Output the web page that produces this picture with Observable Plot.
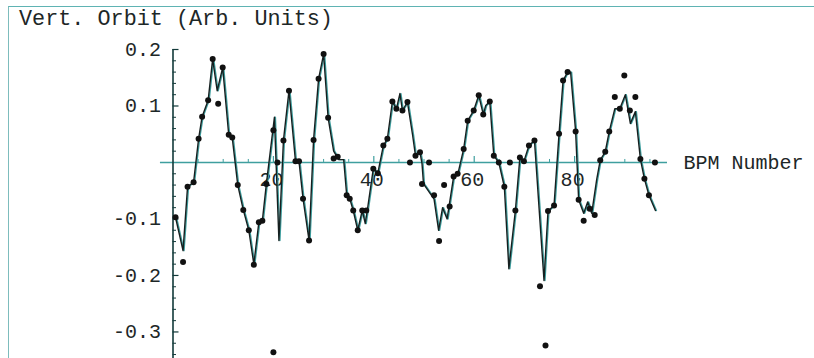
<!DOCTYPE html>
<html><head><meta charset="utf-8">
<script src="https://cdn.jsdelivr.net/npm/d3@7"></script>
<script src="https://cdn.jsdelivr.net/npm/@observablehq/plot@0.6"></script>
<style>
html,body{margin:0;padding:0;background:#fff;}
#wrap{position:relative;width:814px;height:358px;overflow:hidden;}
#frame{position:absolute;left:8px;top:6px;width:830px;height:420px;border-left:1.5px solid #7dbcbc;border-top:1.5px solid #5fb3b3;box-sizing:border-box;pointer-events:none;}
#title{position:absolute;left:19px;top:9px;font-family:"Liberation Mono","DejaVu Sans Mono",monospace;font-size:21.8px;line-height:21.5px;color:#1d2727;white-space:pre;}
#chart{position:absolute;left:0;top:0;}
</style></head>
<body>
<div id="wrap"><div id="frame"></div><div id="title">Vert. Orbit (Arb. Units)</div><div id="chart"></div></div>
<script>
// Fitted orbit curve (BPM number, vertical orbit)
const fitBpm = [0.5,2.0,2.9,4.1,5.1,5.8,7.0,7.9,8.8,9.9,11.1,11.8,12.9,14.0,15.1,16.1,17.1,17.8,18.6,20.2,21.1,22.0,23.1,24.4,25.1,25.9,27.1,28.0,29.0,30.0,30.9,32.0,33.0,34.0,34.6,35.2,35.9,36.8,37.7,38.3,38.7,39.9,40.8,41.9,42.7,43.7,44.5,45.2,45.7,46.7,47.7,48.3,49.2,49.6,49.9,52.0,52.9,53.7,54.6,55.9,56.7,57.9,58.7,59.9,60.9,61.8,62.3,63.1,63.9,64.9,66.0,66.9,68.2,69.1,69.9,70.9,72.0,73.9,74.7,75.9,76.9,77.7,78.6,79.2,80.2,80.8,81.8,82.6,83.4,84.4,85.1,86.1,86.9,88.0,89.0,90.1,91.1,92.1,93.1,93.9,94.8,96.1];
const fitOrbit = [-0.097,-0.156,-0.043,-0.035,0.042,0.081,0.11,0.183,0.127,0.168,0.049,0.044,-0.04,-0.084,-0.12,-0.18,-0.106,-0.103,-0.038,0.08,-0.138,0.039,0.127,0.002,0.002,-0.064,-0.138,0.04,0.148,0.192,0.079,0.02,0.005,0.005,-0.058,-0.064,-0.085,-0.12,-0.085,-0.108,-0.085,-0.011,-0.019,0.03,0.042,0.108,0.095,0.122,0.092,0.107,0.05,0.012,0.018,-0.002,-0.038,-0.065,-0.12,-0.08,-0.1,-0.025,-0.022,0.024,0.074,0.092,0.119,0.085,0.101,0.108,0.012,0.0,-0.043,-0.188,-0.085,0.009,0.002,0.03,0.039,-0.209,-0.086,-0.076,0.051,0.145,0.16,0.16,0.055,-0.066,-0.09,-0.07,-0.09,-0.03,0.004,0.019,0.055,0.095,0.095,0.12,0.069,0.09,0.006,-0.029,-0.058,-0.085];
// Measured BPM readings (dots)
const bpm = [0.5,2.0,2.9,4.1,5.1,5.8,7.0,7.9,9.0,9.9,11.1,11.8,12.9,14.0,15.1,16.1,17.1,17.8,18.6,20.0,20.0,20.8,22.0,23.1,24.4,25.1,25.9,27.1,28.0,29.0,30.0,30.9,32.0,32.8,34.6,35.2,35.9,36.8,37.7,38.5,39.9,40.8,41.9,42.7,43.7,44.5,45.7,46.7,47.2,48.3,49.2,49.6,51.0,52.0,53.0,54.0,55.1,55.9,56.7,57.9,58.7,59.9,60.9,61.8,63.1,63.9,64.9,66.0,67.1,68.2,69.1,69.9,70.9,72.0,73.1,74.2,74.7,75.9,76.9,77.7,78.6,80.2,80.8,81.8,83.0,84.0,85.1,86.1,86.9,88.0,89.0,89.9,91.0,92.1,93.1,93.9,94.8,96.0];
const orbit = [-0.097,-0.176,-0.043,-0.035,0.042,0.081,0.11,0.183,0.104,0.168,0.049,0.044,-0.04,-0.084,-0.12,-0.181,-0.106,-0.103,-0.038,0.057,-0.336,0.0,0.039,0.127,0.002,0.002,-0.064,-0.138,0.04,0.148,0.192,0.079,0.007,0.01,-0.058,-0.064,-0.085,-0.12,-0.085,-0.085,-0.011,-0.019,0.03,0.042,0.108,0.095,0.092,0.107,0.0,0.012,0.018,-0.038,0.0,-0.058,-0.139,-0.04,-0.078,-0.025,-0.02,0.024,0.074,0.092,0.119,0.085,0.108,0.012,0.0,-0.043,0.0,-0.085,0.009,0.002,0.03,0.039,-0.219,-0.324,-0.086,-0.076,0.051,0.145,0.16,0.055,-0.066,-0.103,-0.082,-0.093,0.004,0.019,0.055,0.116,0.095,0.154,0.092,0.116,0.006,-0.029,-0.058,0.0];
// Axis ticks
const yTicks = [-0.3,-0.2,-0.1,0.1,0.2];
const yTickLabels = ["-0.3","-0.2","-0.1","0.1","0.2"];
const xTicks = [20,40,60,80];
const xTickLabels = ["20","40","60","80"];
const xMinor = d3.range(5, 100, 5).filter(v => v % 20 !== 0);
const yMinor = d3.range(-34, 21, 2).map(v => v / 100).filter(v => Math.abs(Math.round(v * 100)) % 10 !== 0);

const fit = fitBpm.map((x, i) => ({x, y: fitOrbit[i]}));
const meas = bpm.map((x, i) => ({x, y: orbit[i]}));
const font = "Liberation Mono, DejaVu Sans Mono, monospace";
const ink = "#1d2727";
const teal = "#3f9f9f";

const chart = Plot.plot({
  width: 814, height: 358,
  marginLeft: 172.5, marginRight: 147, marginTop: 49, marginBottom: 0,
  x: {domain: [0, 98.5], axis: null},
  y: {domain: [-0.347, 0.2], axis: null},
  style: {fontFamily: font, background: "transparent"},
  marks: [
    // x axis line (extends slightly left of the y axis)
    Plot.ruleY([0], {x1: -2.5, x2: 98.5, stroke: teal, strokeWidth: 1.5}),
    // y axis line
    Plot.ruleX([0], {stroke: "#123a3a", strokeWidth: 1.6}),
    // y ticks (pointing right)
    Plot.ruleY(yTicks, {x1: 0, x2: 0, insetRight: -6, stroke: "#123a3a", strokeWidth: 1.2}),
    Plot.ruleY(yMinor, {x1: 0, x2: 0, insetRight: -3.5, stroke: "#123a3a", strokeWidth: 1}),
    // x ticks (pointing up)
    Plot.ruleX(xTicks, {y1: 0, y2: 0, insetTop: -6, stroke: teal, strokeWidth: 1.2}),
    Plot.ruleX(xMinor, {y1: 0, y2: 0, insetTop: -3, stroke: teal, strokeWidth: 1}),
    // tick labels
    Plot.text(yTicks, {x: 0, y: d => d, text: (d, i) => yTickLabels[i], dx: -12, textAnchor: "end", fontSize: 20, fill: ink}),
    Plot.text(xTicks, {x: d => d, y: 0, text: (d, i) => xTickLabels[i], dy: 17, dx: -2, textAnchor: "middle", fontSize: 20, fill: ink}),
    Plot.text(["BPM Number"], {frameAnchor: "right", y: 0, dx: 16, textAnchor: "start", fontSize: 20, fill: ink}),
    // fit curve
    Plot.line(fit, {x: "x", y: "y", stroke: teal, strokeWidth: 1.4, dx: 1}),
    Plot.line(fit, {x: "x", y: "y", stroke: "#162020", strokeWidth: 1.4}),
    // measured points
    Plot.dot(meas, {x: "x", y: "y", r: 3, fill: "#111", stroke: "none"})
  ]
});
document.getElementById("chart").appendChild(chart);
</script>
</body></html>
